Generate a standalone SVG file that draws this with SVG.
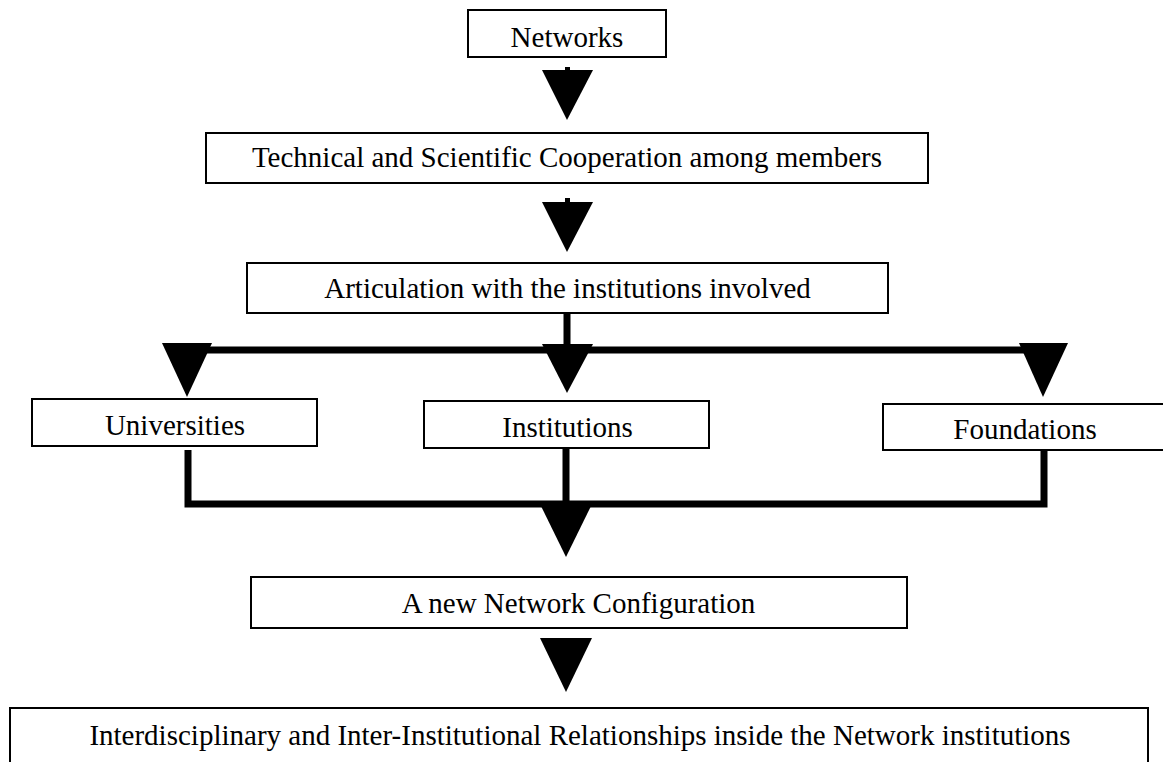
<svg xmlns="http://www.w3.org/2000/svg" width="1163" height="762" viewBox="0 0 1163 762">
  <style>
    .box { fill: #ffffff; stroke: #000000; stroke-width: 2; }
    .label { font-family: "Liberation Serif", "Times New Roman", serif; font-size: 29px; fill: #000000; text-anchor: middle; }
    .bar { fill: none; stroke: #000000; stroke-width: 7; stroke-linejoin: miter; stroke-linecap: butt; }
    .head { fill: #000000; stroke: none; }
  </style>
  <rect width="1163" height="762" fill="#ffffff"/>

  <!-- connectors -->
  <g id="connectors">
    <!-- Networks -> Technical -->
    <rect class="head" x="565" y="67" width="5" height="4"/>
    <polygon class="head" points="542,70 593,70 567,120"/>
    <!-- Technical -> Articulation -->
    <rect class="head" x="565" y="198" width="5" height="4"/>
    <polygon class="head" points="542,202 593,202 567,252"/>
    <!-- Articulation -> three branches -->
    <path class="bar" d="M567 313 V350 M187 350 H1043"/>
    <polygon class="head" points="162,343 212,343 187,397"/>
    <polygon class="head" points="542,344 593,344 567,393"/>
    <polygon class="head" points="1019,343 1068,343 1043,397"/>
    <!-- branches -> merge -->
    <path class="bar" d="M188 450 V504 H1044 V450 M566 449 V504"/>
    <polygon class="head" points="540,504 592,504 566,557"/>
    <!-- New configuration -> relationships -->
    <polygon class="head" points="540,638 592,638 566,692"/>
  </g>

  <g id="node-networks">
    <rect class="box" x="468" y="10" width="198" height="47"/>
    <text class="label" x="567" y="47">Networks</text>
  </g>

  <g id="node-cooperation">
    <rect class="box" x="206" y="133" width="722" height="50"/>
    <text class="label" x="567" y="167">Technical and Scientific Cooperation among members</text>
  </g>

  <g id="node-articulation">
    <rect class="box" x="247" y="263" width="641" height="50"/>
    <text class="label" x="567.5" y="298">Articulation with the institutions involved</text>
  </g>

  <g id="node-universities">
    <rect class="box" x="32" y="399" width="285" height="47"/>
    <text class="label" x="175" y="435">Universities</text>
  </g>

  <g id="node-institutions">
    <rect class="box" x="424" y="401" width="285" height="47"/>
    <text class="label" x="567.5" y="437">Institutions</text>
  </g>

  <g id="node-foundations">
    <rect class="box" x="883" y="404" width="284" height="46"/>
    <text class="label" x="1025" y="439">Foundations</text>
  </g>

  <g id="node-configuration">
    <rect class="box" x="251" y="577" width="656" height="51"/>
    <text class="label" x="578.5" y="613">A new Network Configuration</text>
  </g>

  <g id="node-relationships">
    <rect class="box" x="10" y="708" width="1138" height="60"/>
    <text class="label" x="580" y="745">Interdisciplinary and Inter-Institutional Relationships inside the Network institutions</text>
  </g>
</svg>
